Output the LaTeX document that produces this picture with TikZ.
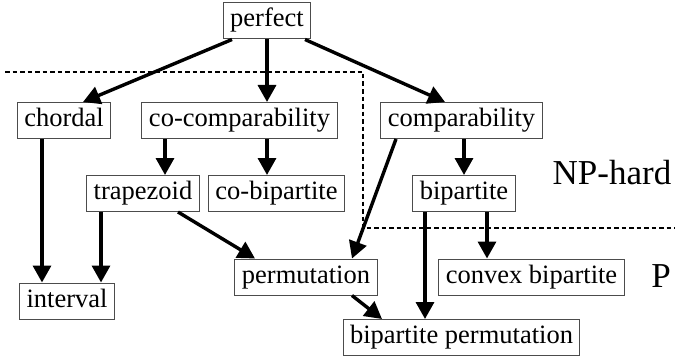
\documentclass[tikz,border=0pt]{standalone}
\usepackage{fontspec}
\setmainfont{Liberation Serif}
\usetikzlibrary{arrows.meta,positioning}

\begin{document}
\begin{tikzpicture}[x=1pt, y=-1pt,
  every node/.style={font=\fontsize{26.5}{30}\selectfont},
  cls/.style={draw=black!70, line width=1pt, rectangle, inner xsep=7pt, inner ysep=6pt, text height=18pt, text depth=6pt},
  incl/.style={line width=3.4pt, -{Triangle[length=17pt,width=18pt]}},
  border/.style={line width=2pt, dash pattern=on 4.5pt off 3pt},
  region/.style={font=\fontsize{35}{40}\selectfont}
]
  \useasboundingbox (0,0) rectangle (675,361);

  % Grenze NP-hard / P
  \coordinate (b1) at (5,72);
  \coordinate (b2) at (363,72);
  \coordinate (b3) at (363,228);
  \coordinate (b4) at (675,228);
  \draw[border] (b1) -- (b2) -- (b3) -- (b4);

  % Klassen
  \node[cls] (perfect) at (267,21) {perfect};
  \node[cls] (chordal) at (64,120.5) {chordal};
  \node[cls] (cocomp) at (239.5,120.5) {co-comparability};
  \node[cls] (comp) at (461.5,120.5) {comparability};
  \node[cls] (trap) at (143,193.5) {trapezoid};
  \node[cls] (cobip) at (276.5,193.5) {co-bipartite};
  \node[cls] (bip) at (464,193.5) {bipartite};
  \node[cls] (perm) at (306,277) {permutation};
  \node[cls] (convex) at (531.5,277) {convex bipartite};
  \node[cls] (interval) at (67,301) {interval};
  \node[cls] (bipperm) at (461.5,337.5) {bipartite permutation};

  % Bereiche
  \node[region] (nphard) at (612,173) {NP-hard};
  \node[region] (p) at (661,276) {P};

  % Inklusionen
  \draw[incl] ([xshift=-35pt]perfect.south) -- ([xshift=19pt]chordal.north);
  \draw[incl] (perfect.south) -- ([xshift=27.5pt]cocomp.north);
  \draw[incl] ([xshift=38pt]perfect.south) -- ([xshift=-16.5pt]comp.north);
  \draw[incl] ([xshift=-22pt]chordal.south) -- ([xshift=-25pt]interval.north);
  \draw[incl] ([xshift=-74.5pt]cocomp.south) -- ([xshift=22pt]trap.north);
  \draw[incl] ([xshift=27.5pt]cocomp.south) -- ([xshift=-9.5pt]cobip.north);
  \draw[incl] ([xshift=2.5pt]comp.south) -- (bip.north);
  \draw[incl] ([xshift=-65.5pt]comp.south) -- ([xshift=46pt]perm.north);
  \draw[incl] ([xshift=-42pt]trap.south) -- ([xshift=34pt]interval.north);
  \draw[incl] ([xshift=35pt]trap.south) -- ([xshift=-51pt]perm.north);
  \draw[incl] ([xshift=23pt]bip.south) -- ([xshift=-44.5pt]convex.north);
  \draw[incl] ([xshift=-39pt]bip.south) -- ([xshift=-36.5pt]bipperm.north);
  \draw[incl] ([xshift=46pt]perm.south) -- ([xshift=-79.5pt]bipperm.north);
\end{tikzpicture}
\end{document}
